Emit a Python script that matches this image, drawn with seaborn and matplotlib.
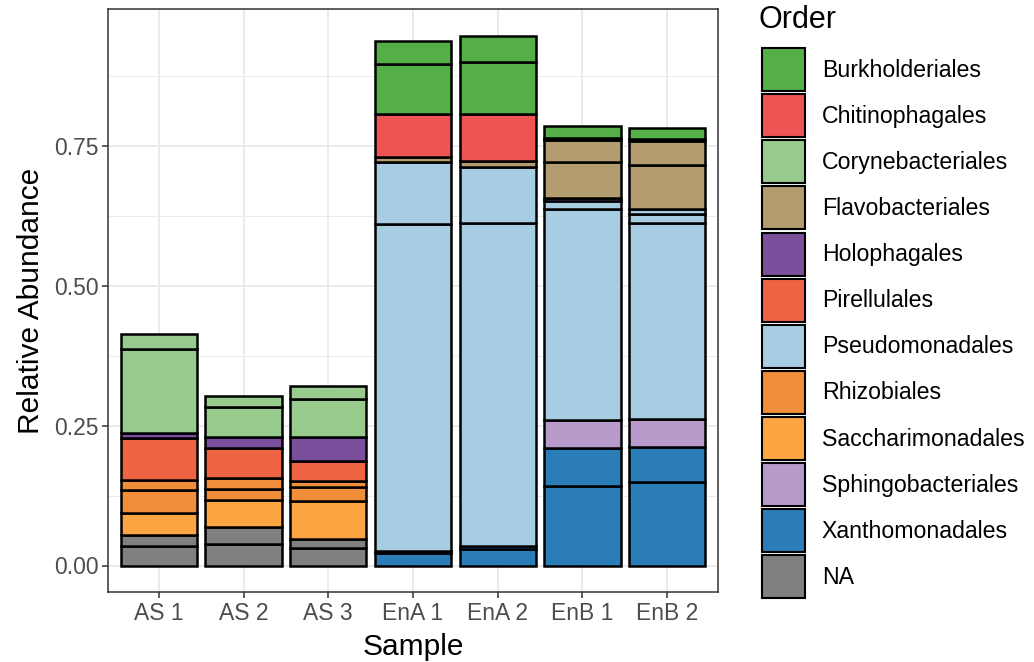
import matplotlib
matplotlib.use("Agg")
import matplotlib.pyplot as plt
from matplotlib.patches import Patch
import seaborn as sns
import pandas as pd
import numpy as np

# ---------------- data ----------------
samples = ["AS 1", "AS 2", "AS 3", "EnA 1", "EnA 2", "EnB 1", "EnB 2"]

orders = ["Burkholderiales", "Chitinophagales", "Corynebacteriales", "Flavobacteriales",
          "Holophagales", "Pirellulales", "Pseudomonadales", "Rhizobiales",
          "Saccharimonadales", "Sphingobacteriales", "Xanthomonadales", "NA"]

order_colors = ["#54B046", "#EF5455", "#98CC8F", "#B29C70",
                "#7A4F9C", "#EE6442", "#A6CDE2", "#F08E3A",
                "#FDA543", "#B89BCA", "#2A7DB6", "#808080"]

# segments (one per ASV), listed bottom -> top for each sample
as1_orders = ["NA", "NA", "Saccharimonadales", "Rhizobiales", "Rhizobiales", "Pirellulales",
              "Holophagales", "Corynebacteriales", "Corynebacteriales"]
as1_values = [0.0341, 0.0202, 0.0394, 0.0420, 0.0179, 0.0740, 0.0090, 0.1500, 0.0269]

as2_orders = ["NA", "NA", "Saccharimonadales", "Rhizobiales", "Rhizobiales", "Pirellulales",
              "Holophagales", "Corynebacteriales", "Corynebacteriales"]
as2_values = [0.0376, 0.0305, 0.0484, 0.0209, 0.0191, 0.0544, 0.0197, 0.0538, 0.0179]

as3_orders = ["NA", "NA", "Saccharimonadales", "Rhizobiales", "Rhizobiales", "Pirellulales",
              "Holophagales", "Corynebacteriales", "Corynebacteriales"]
as3_values = [0.0310, 0.0168, 0.0674, 0.0258, 0.0101, 0.0358, 0.0430, 0.0688, 0.0221]

ena1_orders = ["Xanthomonadales", "Xanthomonadales", "Pseudomonadales", "Pseudomonadales",
               "Flavobacteriales", "Chitinophagales", "Burkholderiales", "Burkholderiales"]
ena1_values = [0.0220, 0.0040, 0.5851, 0.1101, 0.0088, 0.0782, 0.0896, 0.0412]

ena2_orders = ["Xanthomonadales", "Xanthomonadales", "Pseudomonadales", "Pseudomonadales",
               "Flavobacteriales", "Chitinophagales", "Burkholderiales", "Burkholderiales"]
ena2_values = [0.0300, 0.0050, 0.5779, 0.0991, 0.0117, 0.0845, 0.0927, 0.0471]

enb1_orders = ["Xanthomonadales", "Xanthomonadales", "Sphingobacteriales", "Pseudomonadales",
               "Pseudomonadales", "Holophagales", "Flavobacteriales", "Flavobacteriales",
               "Chitinophagales", "Burkholderiales"]
enb1_values = [0.1421, 0.0676, 0.0502, 0.3772, 0.0154, 0.0040, 0.0652, 0.0393, 0.0035, 0.0217]

enb2_orders = ["Xanthomonadales", "Xanthomonadales", "Sphingobacteriales", "Pseudomonadales",
               "Pseudomonadales", "Pseudomonadales", "Flavobacteriales", "Flavobacteriales",
               "Chitinophagales", "Burkholderiales"]
enb2_values = [0.1496, 0.0622, 0.0498, 0.3504, 0.0170, 0.0090, 0.0776, 0.0444, 0.0030, 0.0196]

sample_orders = [as1_orders, as2_orders, as3_orders, ena1_orders, ena2_orders, enb1_orders, enb2_orders]
sample_values = [as1_values, as2_values, as3_values, ena1_values, ena2_values, enb1_values, enb2_values]

# long-format table
rows = []
for s, ords, vals in zip(samples, sample_orders, sample_values):
    for k, (o, v) in enumerate(zip(ords, vals)):
        rows.append({"Sample": s, "Order": o, "Abundance": v, "seg": k})
df = pd.DataFrame(rows)
df["bottom"] = df.groupby("Sample")["Abundance"].cumsum() - df["Abundance"]

palette = dict(zip(orders, order_colors))

# ---------------- style ----------------
sns.set_theme(style="white")
plt.rcParams["font.family"] = ["Liberation Sans", "DejaVu Sans"]
plt.rcParams["text.color"] = "black"

fig = plt.figure(figsize=(10.34, 6.62), dpi=100)
ax = fig.add_axes([108 / 1034, 70 / 662, 610 / 1034, 583 / 662])
ax.set_facecolor("white")

xpos = {s: i for i, s in enumerate(samples)}
for _, r in df.iterrows():
    ax.bar(xpos[r["Sample"]], r["Abundance"], bottom=r["bottom"], width=0.9,
           color=palette[r["Order"]], edgecolor="black", linewidth=1.8, zorder=3)

totals = df.groupby("Sample")["Abundance"].sum()
ymax = totals.max()
ax.set_ylim(-0.05 * ymax, ymax * 1.05)
ax.set_xlim(-0.6, len(samples) - 0.4)

yt = [0.0, 0.25, 0.5, 0.75]
ax.set_yticks(yt)
ax.set_yticklabels(["0.00", "0.25", "0.50", "0.75"])
ax.set_yticks([0.125, 0.375, 0.625, 0.875], minor=True)
ax.set_xticks(range(len(samples)))
ax.set_xticklabels(samples)

ax.grid(True, which="major", color="#EBEBEB", linewidth=1.4, zorder=0)
ax.grid(True, which="minor", axis="y", color="#EBEBEB", linewidth=0.7, zorder=0)
ax.set_axisbelow(True)

for sp in ax.spines.values():
    sp.set_color("#333333")
    sp.set_linewidth(1.1)
    sp.set_visible(True)

ax.tick_params(axis="both", which="major", length=4.5, width=1.1, color="#333333",
               labelsize=16.5, labelcolor="#4D4D4D", pad=2.5, bottom=True, left=True)
ax.tick_params(axis="both", which="minor", length=0)

ax.set_xlabel("Sample", fontsize=21.5, color="black", labelpad=6)
ax.set_ylabel("Relative Abundance", fontsize=21.5, color="black", labelpad=6)

handles = [Patch(facecolor=c, edgecolor="black", linewidth=1.5) for c in order_colors]
leg = fig.legend(handles, orders, loc="upper left",
                 bbox_to_anchor=(762 / 1034, 1 - 48 / 662), frameon=False,
                 fontsize=16.7, handlelength=1.854, handleheight=2.475,
                 labelspacing=0.135, handletextpad=0.72, borderpad=0.0, borderaxespad=0.0,
                 labelcolor="black")
fig.text(759 / 1034, 1 - 28.5 / 662, "Order", fontsize=22, color="black",
         ha="left", va="baseline")

fig.savefig("out.png", dpi=100)
